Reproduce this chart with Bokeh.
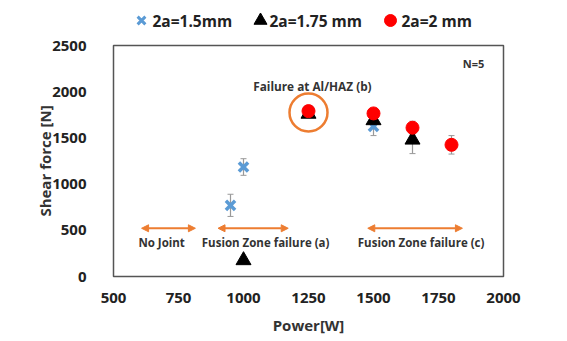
from bokeh.plotting import figure
from bokeh.models import (ColumnDataSource, Whisker, Arrow, NormalHead, Label,
                          FixedTicker, Range1d)
from bokeh.core.properties import value
from bokeh.layouts import column
from bokeh.embed import file_html
from bokeh.resources import INLINE

# data
power_15 = [950, 1000, 1250, 1500]
force_15 = [770, 1185, 1790, 1625]
err_15 = [120, 90, 30, 100]

power_175 = [1000, 1250, 1500, 1650]
force_175 = [175, 1760, 1690, 1480]
err_175 = [0, 30, 60, 150]

power_2 = [1250, 1500, 1650, 1800]
force_2 = [1790, 1765, 1610, 1425]
err_2 = [30, 40, 70, 100]

series_labels = ["2a=1.5mm", "2a=1.75 mm", "2a=2 mm"]

x_ticks = [500, 750, 1000, 1250, 1500, 1750, 2000]
y_ticks = [0, 500, 1000, 1500, 2000, 2500]

regions = ["No Joint", "Fusion Zone failure (a)", "Fusion Zone failure (c)"]
region_start = [608, 902, 1478]
region_end = [815, 1172, 1842]
region_center = [685, 1085, 1683]
arrow_y = 522
label_y = 370

FONT = "Open Sans"
ORANGE = "#ED7D31"
BLUE = "#5B9BD5"
W = 560
TOP_H = 35
FRAME_L, FRAME_R = 113, 503

p = figure(width=W, height=302, output_backend="svg", toolbar_location=None,
           x_range=Range1d(500, 2000), y_range=Range1d(0, 2500),
           min_border_left=FRAME_L, min_border_right=W - FRAME_R, min_border_top=10,
           min_border_bottom=58)
p.grid.visible = False
p.outline_line_color = "#555555"
p.outline_line_width = 1.5

for ax in (p.xaxis, p.yaxis):
    ax.axis_line_color = None
    ax.major_tick_line_color = None
    ax.minor_tick_line_color = None
    ax.major_label_text_font = FONT
    ax.major_label_text_font_style = "bold"
    ax.major_label_text_font_size = "15px"
    ax.major_label_text_color = "#222222"
    ax.axis_label_text_font = FONT
    ax.axis_label_text_font_style = "bold"
    ax.axis_label_text_font_size = "15px"
    ax.axis_label_text_color = "#333333"
p.xaxis.ticker = FixedTicker(ticks=x_ticks)
p.yaxis.ticker = FixedTicker(ticks=y_ticks)
p.xaxis.axis_label = "Power[W]"
p.yaxis.axis_label = "Shear force [N]"
p.xaxis.major_label_standoff = 10
p.yaxis.major_label_standoff = 21
p.yaxis.axis_label_standoff = -6
p.xaxis.axis_label_standoff = 9

def add_errors(xs, ys, es):
    src = ColumnDataSource(dict(x=xs, lo=[y - e for y, e in zip(ys, es)],
                                hi=[y + e for y, e in zip(ys, es)]))
    w = Whisker(base="x", lower="lo", upper="hi", source=src,
                line_color="#999999", line_width=1.2)
    w.upper_head.size = 6
    w.lower_head.size = 6
    w.upper_head.line_color = "#999999"
    w.lower_head.line_color = "#999999"
    p.add_layout(w)

add_errors(power_15, force_15, err_15)
add_errors(power_175, force_175, err_175)
add_errors(power_2, force_2, err_2)

sty15 = dict(marker="x", size=13, line_color=BLUE, line_width=3.5)
sty175 = dict(marker="triangle", size=15, fill_color="black", line_color="black")
sty2 = dict(marker="circle", size=13, fill_color="#FF0000", line_color="#FF0000")

p.scatter(power_15, force_15, **sty15)
p.scatter(power_175, force_175, **sty175)
p.scatter(power_2, force_2, **sty2)

# highlight circle
p.scatter([1250], [1775], marker="circle", size=38, fill_color=None, line_color=ORANGE, line_width=2.5)

for s, e in zip(region_start, region_end):
    a = Arrow(x_start=s, y_start=arrow_y, x_end=e, y_end=arrow_y,
              line_color=ORANGE, line_width=2,
              start=NormalHead(size=7, fill_color=ORANGE, line_color=ORANGE),
              end=NormalHead(size=7, fill_color=ORANGE, line_color=ORANGE))
    p.add_layout(a)

for t, c in zip(regions, region_center):
    p.add_layout(Label(x=c, y=label_y, text=t, text_align="center", text_baseline="middle",
                       text_font=FONT, text_font_style="bold", text_font_size="11.5px",
                       text_color="#333333"))

p.add_layout(Label(x=1265, y=2065, text="Failure at Al/HAZ (b)", text_align="center",
                   text_baseline="middle", text_font=FONT, text_font_style="bold",
                   text_font_size="11.8px", text_color="#333333"))
p.add_layout(Label(x=1885, y=2300, text="N=5", text_align="center",
                   text_baseline="middle", text_font=FONT, text_font_style="bold",
                   text_font_size="11px", text_color="#333333"))

# legend strip on top (page-pixel coordinates; frame aligned with main frame)
lf = figure(width=W, height=TOP_H, output_backend="svg", toolbar_location=None,
            x_range=Range1d(FRAME_L, FRAME_R), y_range=Range1d(0, TOP_H),
            min_border_left=FRAME_L, min_border_right=W - FRAME_R,
            min_border_top=0, min_border_bottom=0, outline_line_color=None)
lf.axis.visible = False
lf.grid.visible = False
leg_marker_x = [141, 260, 390]
leg_text_x = [152, 269, 401]
leg_y = 15
styles = [dict(sty15, size=11, line_width=3), dict(sty175, size=13), dict(sty2, size=12)]
for mx, tx, st, lab in zip(leg_marker_x, leg_text_x, styles, series_labels):
    lf.scatter([mx], [leg_y], **st)
    lf.text([tx], [leg_y], text=[lab], text_font=value(FONT), text_font_style="bold",
            text_font_size="15.5px", text_color="#222222", text_baseline="middle",
            text_align="left")

layout = column(lf, p, spacing=0)
open("out.html", "w").write(file_html(layout, INLINE))
